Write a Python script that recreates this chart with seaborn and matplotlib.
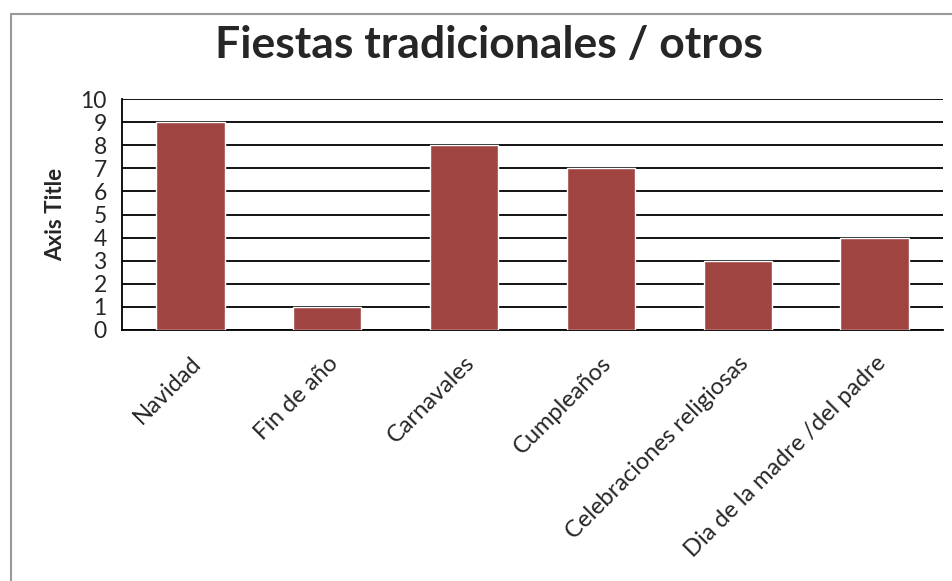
import matplotlib
matplotlib.use("Agg")
import matplotlib.pyplot as plt
import seaborn as sns
import pandas as pd

categories = ["Navidad", "Fin de año", "Carnavales", "Cumpleaños",
              "Celebraciones religiosas", "Dia de la madre /del padre"]
values = [9, 1, 8, 7, 3, 4]
y_ticks = list(range(0, 11))

sns.set_theme(style="white")
plt.rcParams['font.family'] = ['Lato', 'DejaVu Sans']

fig = plt.figure(figsize=(9.53, 5.81), dpi=100)
ax = fig.add_axes([122/953, 1 - 330/581, (943-122)/953, (330-99)/581])

df = pd.DataFrame({"cat": categories, "val": values})
sns.barplot(data=df, x="cat", y="val", color="#A04441", saturation=1,
            width=0.5, ax=ax, zorder=3)

ax.set_ylim(0, 10)
ax.set_xlim(-0.5, len(categories) - 0.5)
ax.set_yticks(y_ticks)
ax.set_yticklabels([str(t) for t in y_ticks], fontsize=16.5)
ax.yaxis.grid(True, color="black", linewidth=1.3, zorder=0)
ax.set_axisbelow(True)
ax.tick_params(axis="y", length=0, pad=11)
ax.tick_params(axis="x", length=0, pad=16)
ax.set_xticks(range(len(categories)))
ax.set_xticklabels(categories, rotation=45, ha="right", rotation_mode="anchor",
                   fontsize=17)
for s in ["top", "right"]:
    ax.spines[s].set_visible(False)
for s in ["left", "bottom"]:
    ax.spines[s].set_color("black")
    ax.spines[s].set_linewidth(1.3)
ax.set_xlabel("")
ax.set_ylabel("Axis Title", fontsize=16, fontweight="bold")
ax.yaxis.set_label_coords((66 - 122) / (943 - 122), 0.5)

fig.suptitle("Fiestas tradicionales / otros", fontsize=32, fontweight="bold",
             x=489/953, y=1 - 45/581, va="center")

# chart area border (top and left visible)
fig.add_artist(plt.Line2D([11/953, 1], [1 - 14/581, 1 - 14/581],
                          transform=fig.transFigure, color="#9a9a9a", linewidth=1.5))
fig.add_artist(plt.Line2D([11/953, 11/953], [0, 1 - 14/581],
                          transform=fig.transFigure, color="#9a9a9a", linewidth=1.5))

fig.savefig("out.png", dpi=100, facecolor="white")
